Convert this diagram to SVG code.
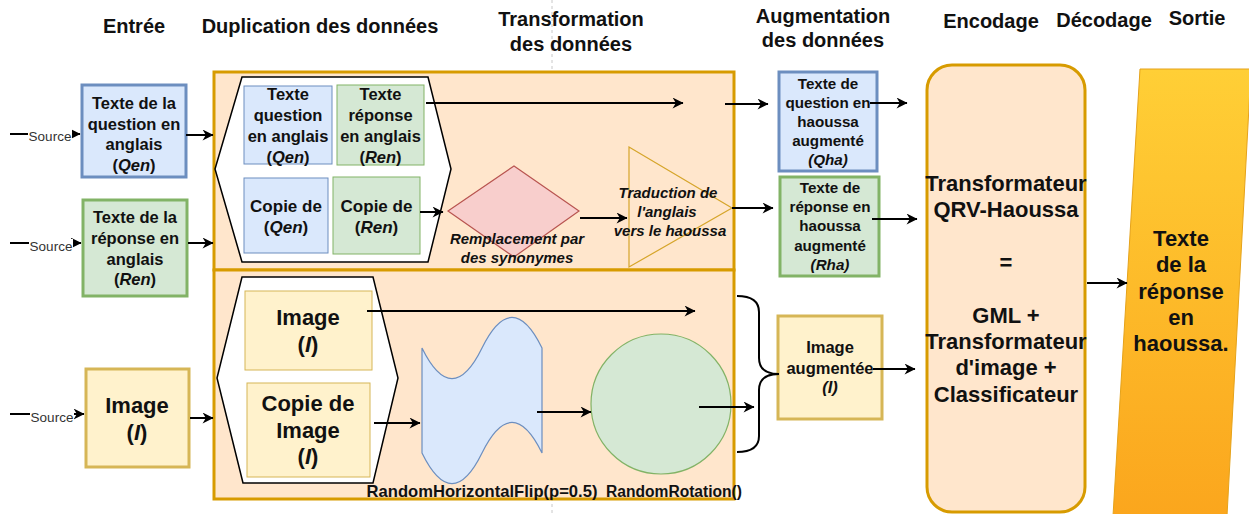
<svg xmlns="http://www.w3.org/2000/svg" width="1249" height="514" viewBox="0 0 1249 514">
  <style>
    text { font-family: "Liberation Sans", Arial, sans-serif; font-weight: bold; fill: #111; text-anchor: middle; }
    .h { font-size: 20px; }
    .t16 { font-size: 16.5px; }
    .t15 { font-size: 15.2px; }
    .t17 { font-size: 17px; }
    .t22 { font-size: 22px; }
    .it { font-style: italic; }
    .src { font-size: 13.5px; font-weight: normal; fill: #333; }
    .edge { stroke: #000; stroke-width: 2; fill: none; marker-end: url(#arr); }
    .blue { fill: #dae8fc; stroke: #6c8ebf; }
    .green { fill: #d5e8d4; stroke: #82b366; }
    .yellow { fill: #fff2cc; stroke: #d6b656; }
    .orange { fill: #ffe6cc; stroke: #d79b00; stroke-width: 3; }
    .thick { stroke-width: 3; }
    .thin { stroke-width: 1; }
  </style>
  <defs>
    <marker id="arr" viewBox="0 0 10 10" refX="9.5" refY="5" markerWidth="13" markerHeight="11" markerUnits="userSpaceOnUse" orient="auto">
      <path d="M0,0 L10,5 L0,10 L3,5 Z" fill="#000"/>
    </marker>
    <linearGradient id="outGrad" x1="0" y1="0" x2="0" y2="1">
      <stop offset="0" stop-color="#ffcf36"/>
      <stop offset="1" stop-color="#fba61d"/>
    </linearGradient>
  </defs>

  <rect width="1249" height="514" fill="#fff"/>
  <!-- column guide -->
  <line x1="552" y1="0" x2="552" y2="514" stroke="#c8c8c8" stroke-width="1" stroke-dasharray="3 3"/>

  <!-- column headings -->
  <g id="headings">
    <text class="h" x="134" y="33">Entrée</text>
    <text class="h" x="320" y="33">Duplication des données</text>
    <text class="h" x="571" y="26">Transformation</text>
    <text class="h" x="571" y="51">des données</text>
    <text class="h" x="823" y="23">Augmentation</text>
    <text class="h" x="823" y="47">des données</text>
    <text class="h" x="991" y="28">Encodage</text>
    <text class="h" x="1104" y="27">Décodage</text>
    <text class="h" x="1197" y="25">Sortie</text>
  </g>

  <!-- duplication / transformation containers -->
  <g id="text-container">
    <rect class="orange" x="214" y="72" width="520" height="198"/>
  </g>
  <g id="image-container">
    <rect class="orange" x="214" y="270" width="520" height="229"/>
  </g>

  <!-- inputs -->
  <g id="in-qen">
    <rect class="blue thick" x="82" y="85" width="104" height="92"/>
    <text class="t16" x="134" y="109">Texte de la</text>
    <text class="t16" x="134" y="130">question en</text>
    <text class="t16" x="134" y="150">anglais</text>
    <text class="t16" x="134" y="171">(<tspan class="it">Qen</tspan>)</text>
  </g>
  <g id="in-ren">
    <rect class="green thick" x="83" y="200" width="104" height="96"/>
    <text class="t16" x="135" y="223">Texte de la</text>
    <text class="t16" x="135" y="244">réponse en</text>
    <text class="t16" x="135" y="265">anglais</text>
    <text class="t16" x="135" y="285">(<tspan class="it">Ren</tspan>)</text>
  </g>
  <g id="in-image">
    <rect class="yellow thick" x="86" y="369" width="103" height="98"/>
    <text class="t22" x="137" y="413">Image</text>
    <text class="t22" x="137" y="440">(<tspan class="it">I</tspan>)</text>
  </g>

  <!-- text duplication -->
  <g id="dup-text">
    <polygon points="242,77 428,77 451,169 428,262 242,262 215,169" fill="#fff" stroke="#000" stroke-width="1.5"/>
    <rect class="blue thin" x="244" y="86" width="88" height="78"/>
    <text class="t16" x="288" y="100">Texte</text>
    <text class="t16" x="288" y="121">question</text>
    <text class="t16" x="288" y="142">en anglais</text>
    <text class="t16" x="288" y="163">(<tspan class="it">Qen</tspan>)</text>
    <rect class="green thin" x="337" y="85" width="87" height="80"/>
    <text class="t16" x="380.5" y="100">Texte</text>
    <text class="t16" x="380.5" y="121">réponse</text>
    <text class="t16" x="380.5" y="142">en anglais</text>
    <text class="t16" x="380.5" y="163">(<tspan class="it">Ren</tspan>)</text>
    <rect class="blue thin" x="244" y="178" width="84" height="75"/>
    <text class="t17" x="286" y="212">Copie de</text>
    <text class="t17" x="286" y="233">(<tspan class="it">Qen</tspan>)</text>
    <rect class="green thin" x="333" y="177" width="87" height="77"/>
    <text class="t17" x="376.5" y="212">Copie de</text>
    <text class="t17" x="376.5" y="233">(<tspan class="it">Ren</tspan>)</text>
  </g>

  <!-- synonym replacement -->
  <g id="synonyms">
    <polygon points="448,211 514,166 579,211 514,257" fill="#f8cecc" stroke="#b85450" stroke-width="1.2"/>
    <text class="it" style="font-size:15px" x="517" y="244">Remplacement par</text>
    <text class="it" style="font-size:15px" x="517" y="263">des synonymes</text>
  </g>

  <!-- translation -->
  <g id="translation">
    <polygon points="629,147 732,208 629,267" fill="none" stroke="#d6a52a" stroke-width="1.2"/>
    <text class="it" style="font-size:15px" x="668" y="198">Traduction de</text>
    <text class="it" style="font-size:15px" x="667" y="217">l'anglais</text>
    <text class="it" style="font-size:15px" x="670" y="236">vers le haoussa</text>
  </g>

  <!-- image duplication -->
  <g id="dup-image">
    <polygon points="242,277 373,277 398,378 373,483 243,483 217,378" fill="#fff" stroke="#000" stroke-width="1.5"/>
    <rect class="yellow thin" x="245" y="291" width="127" height="79"/>
    <text class="t22" x="308" y="325">Image</text>
    <text class="t22" x="308" y="352">(<tspan class="it">I</tspan>)</text>
    <rect class="yellow thin" x="247" y="383" width="123" height="94"/>
    <text class="t22" x="308" y="411">Copie de</text>
    <text class="t22" x="308" y="438">Image</text>
    <text class="t22" x="308" y="464">(<tspan class="it">I</tspan>)</text>
  </g>

  <!-- horizontal flip -->
  <g id="flip">
    <path d="M422,348 Q452,409.2 482,348 Q512,286.8 542,348 L542,453 Q512,391.8 482,453 Q452,514.2 422,453 Z" fill="#dae8fc" stroke="#6c8ebf" stroke-width="1.2"/>
    <text style="font-size:16.6px" x="482" y="497">RandomHorizontalFlip(p=0.5)</text>
  </g>

  <!-- rotation -->
  <g id="rotation">
    <circle cx="661" cy="404" r="70" fill="#d5e8d4" stroke="#82b366" stroke-width="1.2"/>
    <text style="font-size:15.6px" x="674" y="497">RandomRotation()</text>
  </g>

  <!-- augmented outputs -->
  <g id="out-qha">
    <rect class="blue thick" x="779" y="72" width="98" height="99"/>
    <text class="t15" x="828" y="89">Texte de</text>
    <text class="t15" x="828" y="108">question en</text>
    <text class="t15" x="828" y="127">haoussa</text>
    <text class="t15" x="828" y="146">augmenté</text>
    <text class="t15 it" x="828" y="165">(Qha)</text>
  </g>
  <g id="out-rha">
    <rect class="green thick" x="780" y="177" width="99" height="99"/>
    <text class="t15" x="830" y="193">Texte de</text>
    <text class="t15" x="830" y="212">réponse en</text>
    <text class="t15" x="830" y="231">haoussa</text>
    <text class="t15" x="830" y="251">augmenté</text>
    <text class="t15 it" x="830" y="270">(Rha)</text>
  </g>
  <g id="out-image">
    <rect class="yellow thick" x="778" y="316" width="104" height="103"/>
    <text class="t16" x="830" y="353">Image</text>
    <text class="t16" x="830" y="374">augmentée</text>
    <text class="t16 it" x="830" y="393">(I)</text>
  </g>

  <!-- model -->
  <g id="model">
    <rect x="927" y="65" width="158" height="447" rx="25" ry="25" fill="#ffe6cc" stroke="#d79b00" stroke-width="3"/>
    <text class="t22" x="1006" y="191">Transformateur</text>
    <text class="t22" x="1006" y="217">QRV-Haoussa</text>
    <text class="t22" x="1006" y="270">=</text>
    <text class="t22" x="1006" y="323">GML +</text>
    <text class="t22" x="1006" y="349">Transformateur</text>
    <text class="t22" x="1006" y="375">d'image +</text>
    <text class="t22" x="1006" y="402">Classificateur</text>
  </g>

  <!-- output -->
  <g id="output">
    <polygon points="1140,69 1251,69 1227,516 1113,516" fill="url(#outGrad)" stroke="#e5a21a" stroke-width="1"/>
    <text class="t22" x="1181" y="246">Texte</text>
    <text class="t22" x="1181" y="272">de la</text>
    <text class="t22" x="1181" y="299">réponse</text>
    <text class="t22" x="1181" y="325">en</text>
    <text class="t22" x="1181" y="351">haoussa.</text>
  </g>

  <!-- connectors -->
  <g id="connectors">
    <!-- sources -->
    <line class="edge" x1="10" y1="134" x2="80" y2="134"/>
    <line class="edge" x1="10" y1="243" x2="81" y2="243"/>
    <line class="edge" x1="10" y1="414" x2="84" y2="414"/>
    <rect x="28" y="129" width="44" height="15" fill="#fff"/>
    <rect x="29" y="239" width="44" height="15" fill="#fff"/>
    <rect x="30" y="410" width="44" height="15" fill="#fff"/>
    <text class="src" x="50" y="141">Source</text>
    <text class="src" x="51" y="251">Source</text>
    <text class="src" x="52" y="422">Source</text>

    <!-- inputs into duplication -->
    <line class="edge" x1="186" y1="135" x2="213" y2="135"/>
    <line class="edge" x1="188" y1="243" x2="213" y2="243"/>
    <line class="edge" x1="190" y1="418" x2="213" y2="418"/>

    <!-- text path -->
    <line class="edge" x1="426" y1="103" x2="683" y2="103"/>
    <line class="edge" x1="725" y1="104" x2="768" y2="104"/>
    <line class="edge" x1="420" y1="212" x2="443" y2="212"/>
    <line class="edge" x1="580" y1="218" x2="627" y2="218"/>
    <line class="edge" x1="732" y1="208" x2="773" y2="208"/>
    <line class="edge" x1="870" y1="103" x2="907" y2="103"/>
    <line class="edge" x1="872" y1="219" x2="917" y2="219"/>

    <!-- image path -->
    <line class="edge" x1="367" y1="311" x2="695" y2="311"/>
    <line class="edge" x1="374" y1="423" x2="420" y2="423"/>
    <line class="edge" x1="537" y1="412" x2="591" y2="412"/>
    <line class="edge" x1="699" y1="407" x2="754" y2="407"/>
    <path d="M737,296 Q759,296 759,312 L759,358 Q759,374 779,374 Q759,374 759,390 L759,436 Q759,452 737,452" fill="none" stroke="#000" stroke-width="2"/>
    <line class="edge" x1="873" y1="369" x2="915" y2="369"/>

    <!-- model to output -->
    <line class="edge" x1="1087" y1="283" x2="1127" y2="283"/>
  </g>
</svg>
